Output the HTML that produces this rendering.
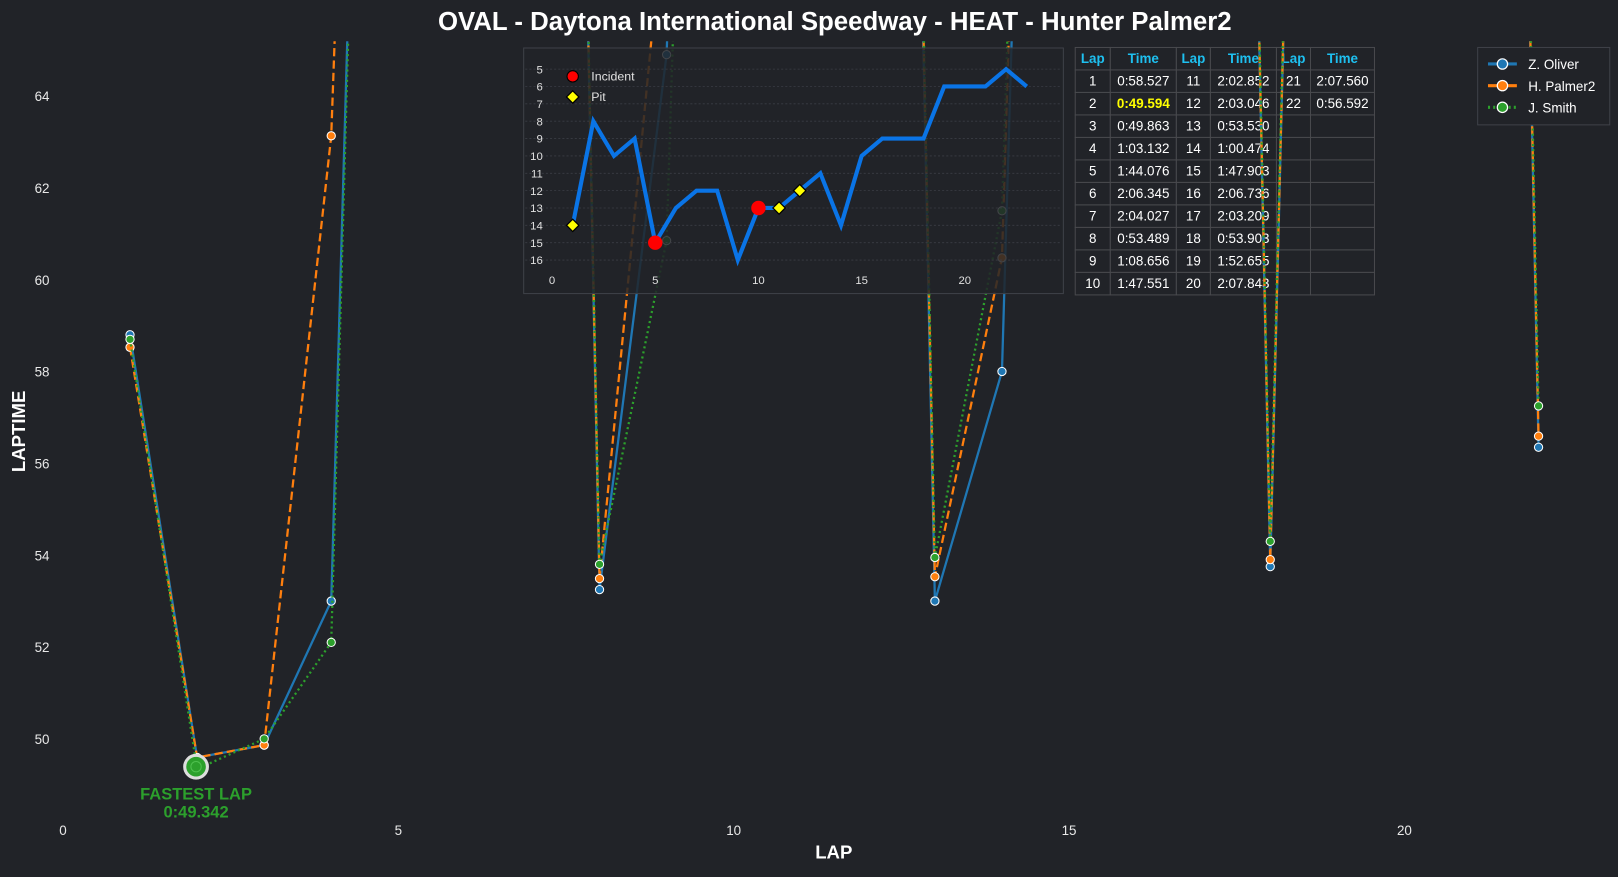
<!DOCTYPE html>
<html><head><meta charset="utf-8"><style>
html,body{margin:0;padding:0;background:#212328;}
body{width:1618px;height:872px;overflow:hidden;font-family:"Liberation Sans",Arial,sans-serif;}
</style></head><body>
<svg id="s" width="1618" height="872" xmlns="http://www.w3.org/2000/svg" font-family="Liberation Sans, Arial, sans-serif">
<rect width="1618" height="872" fill="#212328"/>
<defs><clipPath id="c"><rect x="0" y="40" width="1618" height="770"/></clipPath></defs>
<g id="root" transform="scale(1.03189)">
<text x="809" y="29" text-anchor="middle" font-size="25" font-weight="bold" fill="#ffffff">OVAL - Daytona International Speedway - HEAT - Hunter Palmer2</text>
<g id="ticks" font-size="13" fill="#e8e8e8"></g>
<text x="808" y="832" text-anchor="middle" font-size="18" font-weight="bold" fill="#ffffff">LAP</text>
<text x="24" y="418" text-anchor="middle" font-size="18" font-weight="bold" fill="#ffffff" transform="rotate(-90 24 418)">LAPTIME</text>
<g id="table"></g>
<g id="main" clip-path="url(#c)"></g>
<g id="inset"></g>
<circle cx="190" cy="743" r="11" fill="#2ca02c" stroke="#dddddd" stroke-width="3"/>
<circle cx="190" cy="743" r="5" fill="none" stroke="#4fc04f" stroke-width="1"/>
<text x="190" y="775" text-anchor="middle" font-size="16" font-weight="bold" fill="#2ca02c">FASTEST LAP</text>
<text x="190" y="792" text-anchor="middle" font-size="16" font-weight="bold" fill="#2ca02c">0:49.342</text>
<g id="legend">
<rect x="1432" y="46" width="128" height="75" fill="#212328" stroke="#3e4148" stroke-width="1"/>
<line x1="1442" y1="62" x2="1470" y2="62" stroke="#1f77b4" stroke-width="3"/><circle cx="1456" cy="62" r="5" fill="#1f77b4" stroke="#fff" stroke-width="1.2"/>
<text x="1481" y="67" font-size="13" fill="#fff">Z. Oliver</text>
<line x1="1442" y1="83" x2="1470" y2="83" stroke="#ff7f0e" stroke-width="3"/><circle cx="1456" cy="83" r="5" fill="#ff7f0e" stroke="#fff" stroke-width="1.2"/>
<text x="1481" y="88" font-size="13" fill="#fff">H. Palmer2</text>
<line x1="1442" y1="104" x2="1470" y2="104" stroke="#2ca02c" stroke-width="3" stroke-dasharray="2,3"/><circle cx="1456" cy="104" r="5" fill="#2ca02c" stroke="#fff" stroke-width="1.2"/>
<text x="1481" y="109" font-size="13" fill="#fff">J. Smith</text>
</g>
</g>
</svg>
<script>
var NS="http://www.w3.org/2000/svg";
function el(p,t,a,txt){var e=document.createElementNS(NS,t);for(var k in a)e.setAttribute(k,a[k]);if(txt!=null)e.textContent=txt;p.appendChild(e);return e;}
var X=function(l){return 61+65*l;},Y=function(v){return 716-(v-50)*44.5;};
var tk=document.getElementById('ticks');
[0,5,10,15,20].forEach(function(l){el(tk,'text',{x:X(l),y:809,'text-anchor':'middle'},l)});
[50,52,54,56,58,60,62,64].forEach(function(v){el(tk,'text',{x:48,y:Y(v)+5,'text-anchor':'end'},v)});
var P=[58.527,49.594,49.863,63.132,104.076,126.345,124.027,53.489,68.656,107.551,122.852,123.046,53.53,60.474,107.903,126.736,123.209,53.903,112.655,127.843,127.56,56.592];
var B=P.slice(),G=P.slice();
B[0]=58.8;B[3]=53.0;B[7]=53.25;B[8]=64.9;B[12]=53.0;B[13]=58.0;B[17]=53.75;B[21]=56.35;
G[0]=58.7;G[1]=49.342;G[2]=50.0;G[3]=52.1;G[7]=53.8;G[8]=60.85;G[12]=53.95;G[13]=61.5;G[17]=54.3;G[21]=57.25;
var m=document.getElementById('main');
function ser(d,c,dash){var pts=d.map(function(v,i){return X(i+1)+','+Y(v)}).join(' ');
var a={points:pts,fill:'none',stroke:c,'stroke-width':2.2};if(dash)a['stroke-dasharray']=dash;el(m,'polyline',a);
d.forEach(function(v,i){if(v<66)el(m,'circle',{cx:X(i+1),cy:Y(v),r:4,fill:c,stroke:'#fff','stroke-width':1});});}
var tb=document.getElementById('table');
var cw=[34,64,33,64,33,62],rh=21.8,y0=46;
var cols=[1042];for(var i=0;i<6;i++)cols.push(cols[i]+cw[i]);
var times=["0:58.527","0:49.594","0:49.863","1:03.132","1:44.076","2:06.345","2:04.027","0:53.489","1:08.656","1:47.551","2:02.852","2:03.046","0:53.530","1:00.474","1:47.903","2:06.736","2:03.209","0:53.903","1:52.655","2:07.843","2:07.560","0:56.592"];
for(var r=0;r<11;r++){for(var c=0;c<6;c++){el(tb,'rect',{x:cols[c],y:y0+r*rh,width:cw[c],height:rh,fill:'#212328',stroke:'#48494d','stroke-width':1});}}
for(var c=0;c<6;c++)el(tb,'text',{x:cols[c]+cw[c]/2,y:y0+15,'text-anchor':'middle','font-size':13,'font-weight':'bold',fill:'#1ec0f0'},c%2?'Time':'Lap');
for(var k=0;k<22;k++){var gc=Math.floor(k/10),r=k%10+1;var yy=y0+r*rh+15;
el(tb,'text',{x:cols[gc*2]+cw[gc*2]/2,y:yy,'text-anchor':'middle','font-size':13,fill:'#fff'},k+1);
var at={x:cols[gc*2+1]+cw[gc*2+1]/2,y:yy,'text-anchor':'middle','font-size':13,fill:'#fff'};if(k==1){at.fill='#ffff00';at['font-weight']='bold';}
el(tb,'text',at,times[k]);}
var ins=document.getElementById('inset');
el(ins,'rect',{x:507.5,y:46.5,width:523,height:238,fill:'#212328','fill-opacity':0.85,stroke:'#3e4148'});
var IX=function(l){return 535+20*l;},IY=function(p){return 67+(p-5)*16.82;};
for(var p=5;p<=16;p++){el(ins,'line',{x1:509,x2:1029,y1:IY(p),y2:IY(p),stroke:'#3a3d44','stroke-dasharray':'2,2','stroke-width':0.8});
el(ins,'text',{x:526,y:IY(p)+4,'text-anchor':'end','font-size':11,fill:'#e0e0e0'},p);}
[0,5,10,15,20].forEach(function(l){el(ins,'text',{x:IX(l),y:275,'text-anchor':'middle','font-size':11,fill:'#e0e0e0'},l)});
var pos=[14,8,10,9,15,13,12,12,16,13,13,12,11,14,10,9,9,9,6,6,6,5,6];
el(ins,'polyline',{points:pos.map(function(p,i){return IX(i+1)+','+IY(p)}).join(' '),fill:'none',stroke:'#0a74e6','stroke-width':4});
[5,10].forEach(function(l){el(ins,'circle',{cx:IX(l),cy:IY(pos[l-1]),r:7,fill:'#ff0000'})});
function dia(x,y,g){el(g,'polygon',{points:(x)+','+(y-6)+' '+(x+6)+','+y+' '+x+','+(y+6)+' '+(x-6)+','+y,fill:'#ffff00',stroke:'#000','stroke-width':1.2});}
[1,11,12].forEach(function(l){dia(IX(l),IY(pos[l-1]),ins)});
el(ins,'circle',{cx:555,cy:74,r:5.5,fill:'#ff0000',stroke:'#000','stroke-width':1});
el(ins,'text',{x:573,y:78,'font-size':12,fill:'#e0e0e0'},'Incident');
dia(555,94,ins);
el(ins,'text',{x:573,y:98,'font-size':12,fill:'#e0e0e0'},'Pit');
ser(B,'#1f77b4');ser(P,'#ff7f0e','8,4');ser(G,'#2ca02c','2,3');
</script>
</body></html>
